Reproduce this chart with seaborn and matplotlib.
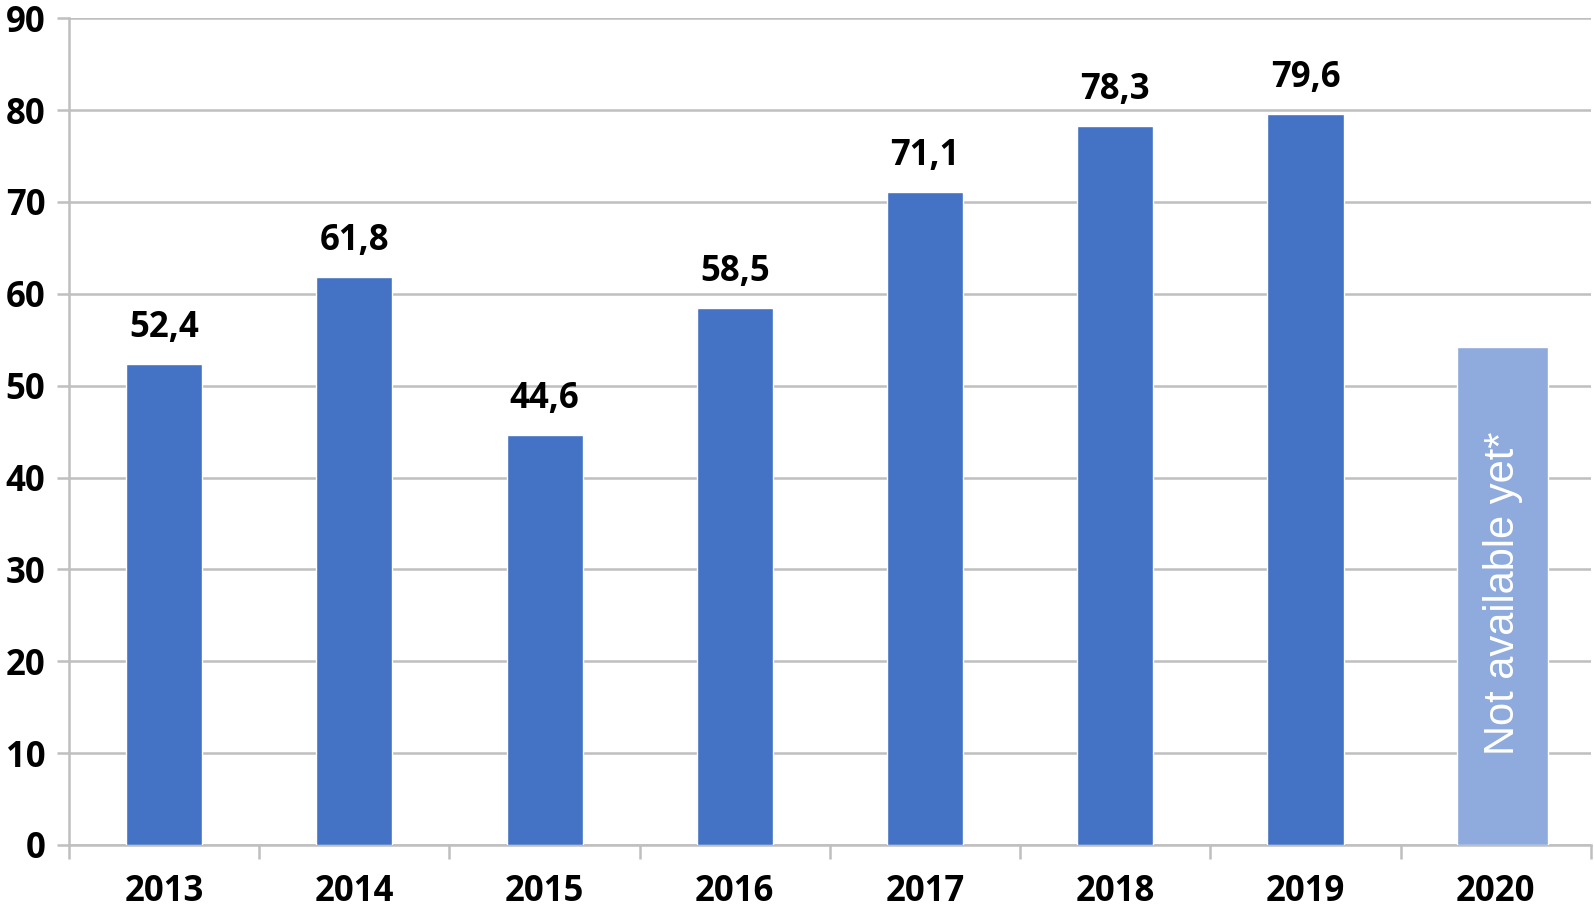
import matplotlib
matplotlib.use("Agg")
import matplotlib.pyplot as plt
import seaborn as sns
import pandas as pd
import numpy as np

# values
years = ["2013", "2014", "2015", "2016", "2017", "2018", "2019", "2020"]
values = [52.4, 61.8, 44.6, 58.5, 71.1, 78.3, 79.6, 54.2]
labels = ["52,4", "61,8", "44,6", "58,5", "71,1", "78,3", "79,6", ""]
note_2020 = "Not available yet*"

blue = "#4472C4"
light_blue = "#8FAADC"
grid_gray = "#BFBFBF"

sns.set_theme(style="white")
plt.rcParams['font.family'] = ['Open Sans', 'DejaVu Sans']

df = pd.DataFrame({"year": years, "value": values})
known = df[df["year"] != "2020"]
pending = df[df["year"] == "2020"]

fig = plt.figure(figsize=(15.94, 9.11), dpi=100)
ax = fig.add_axes([0.0433, 0.0725, 0.9547, 0.9075])

sns.barplot(data=known, x="year", y="value", order=years, color=blue,
            width=0.4, saturation=1, ax=ax, zorder=3)
n_before = len(ax.patches)
sns.barplot(data=pending, x="year", y="value", order=years, color=light_blue,
            width=0.48, saturation=1, ax=ax, zorder=3)
# the 2020 bar sits a touch right of its slot centre in the original
for p in ax.patches[n_before:]:
    p.set_x(p.get_x() + 0.037)

ax.set_ylim(0, 90)
ax.set_xlim(-0.5, 7.5)
ax.set_yticks(range(0, 91, 10))
ax.yaxis.grid(True, color=grid_gray, linewidth=1.8, zorder=0)
ax.set_axisbelow(True)

for s in ["top", "right"]:
    ax.spines[s].set_visible(False)
for s in ["left", "bottom"]:
    ax.spines[s].set_color(grid_gray)
    ax.spines[s].set_linewidth(1.8)

ax.set_xticks(np.arange(-0.5, 8, 1), minor=True)
ax.tick_params(axis="x", which="major", length=0, pad=21)
ax.tick_params(axis="x", which="minor", length=10, width=1.8, color=grid_gray, bottom=True)
ax.tick_params(axis="y", length=9, width=1.8, color=grid_gray, left=True, pad=8)

for lab in ax.get_xticklabels() + ax.get_yticklabels():
    lab.set_fontsize(25)
    lab.set_fontweight("bold")
    lab.set_color("black")

ax.set_xlabel("")
ax.set_ylabel("")

for i, (v, t) in enumerate(zip(values, labels)):
    if t:
        ax.annotate(t, (i, v), xytext=(0, 13), textcoords="offset points",
                    ha="center", va="bottom", fontsize=25, fontweight="bold",
                    color="black")

ax.text(7.037, 27.4, note_2020, rotation=90, ha="center", va="center",
        color="white", fontsize=30, family=["Liberation Sans", "DejaVu Sans"])

fig.savefig("out.png", dpi=100)
